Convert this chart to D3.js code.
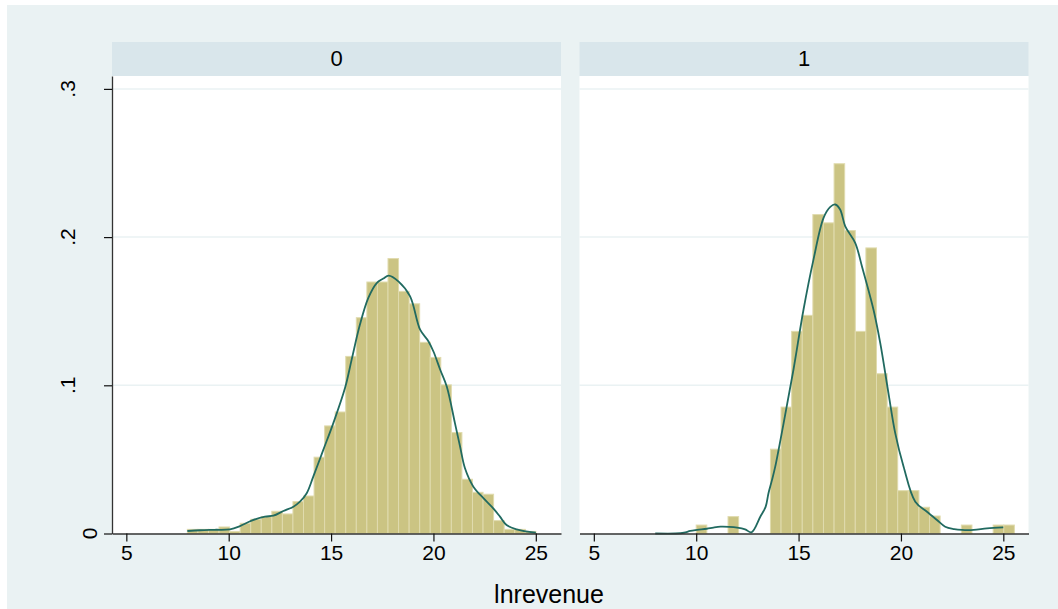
<!DOCTYPE html>
<html>
<head>
<meta charset="utf-8">
<script src="https://cdn.jsdelivr.net/npm/d3@7"></script>
<style>
  body { margin: 0; background: #ffffff; }
  svg { display: block; font-family: "Liberation Sans", Arial, sans-serif; }
</style>
</head>
<body>
<svg id="chart" width="1058" height="609"></svg>
<script>
// ---- data ----
const panels = ["0", "1"];
const xTicks = [5, 10, 15, 20, 25];
const yTicks = [0, 0.1, 0.2, 0.3];
const yTickLabels = ["0", ".1", ".2", ".3"];
const xTitle = "lnrevenue";

const binStart0 = 7.98, binWidth0 = 0.5158;
const density0 = [0.0028,0.0028,0.0028,0.0044,0.0014,0.0069,0.0096,0.0114,0.015,0.0132,0.0215,0.0253,
  0.0515,0.0726,0.082,0.1195,0.1456,0.1697,0.1697,0.1855,0.1634,0.155,0.129,0.1188,0.1003,0.0681,
  0.0366,0.0278,0.0265,0.0087,0.0028,0.0028,0.0014];

const binStart1 = 10.0, binWidth1 = 0.518;
const density1 = [0.0057,0,0,0.0114,0,0,0,0.0569,0.0853,0.1364,0.1472,0.2152,0.2096,0.2495,0.2044,
  0.1364,0.1927,0.1078,0.0853,0.0289,0.0289,0.0177,0.0118,0,0,0.0057,0,0,0.0057,0.0057];

const kdeX0 = [7.98,8.6,9.3,10.06,10.55,11.12,11.77,12.18,12.67,13.16,13.48,13.81,14.13,14.62,15.11,15.68,
  16.0,16.41,16.82,17.23,17.55,17.81,18.3,18.86,19.35,19.76,20.0,20.33,20.65,21.05,21.3,21.54,21.95,
  22.44,22.92,23.25,23.57,24.06,25.0];
const kdeY0 = [0.0017,0.0022,0.0025,0.0028,0.005,0.0087,0.0114,0.012,0.0152,0.0181,0.0215,0.0272,0.0384,
  0.0564,0.0745,0.0981,0.117,0.141,0.159,0.169,0.172,0.174,0.170,0.160,0.1375,0.1296,0.1228,0.1105,
  0.0992,0.0745,0.0587,0.044,0.0316,0.0238,0.017,0.0114,0.0057,0.0028,0.0005];

const kdeX1 = [8.0,9.0,9.4,9.71,10.05,10.52,10.84,11.19,11.6,12.0,12.39,12.7,13.13,13.39,13.53,13.7,13.86,
  14.27,14.75,15.24,15.73,16.22,16.55,16.79,17.03,17.28,17.77,18.1,18.66,18.99,19.39,19.72,20.13,20.7,
  21.27,21.76,22.16,22.6,22.98,23.55,24.2,25.0];
const kdeY1 = [0,0,0.0005,0.0017,0.0024,0.0032,0.004,0.0046,0.0045,0.004,0.0028,0.0008,0.0113,0.018,0.0272,
  0.036,0.0451,0.0745,0.1105,0.151,0.185,0.213,0.2204,0.222,0.2186,0.2073,0.196,0.180,0.151,0.1285,
  0.0947,0.0677,0.0451,0.0215,0.0147,0.0091,0.0046,0.003,0.0024,0.0024,0.0035,0.0042];

const panelData = [
  {label: panels[0], start: binStart0, width: binWidth0, dens: density0, kx: kdeX0, ky: kdeY0},
  {label: panels[1], start: binStart1, width: binWidth1, dens: density1, kx: kdeX1, ky: kdeY1}
];

// ---- layout ----
const svg = d3.select("#chart");
const W = 1058, H = 609;
const panelX = [112, 579.5];
const panelW = 449;
const stripTop = 42, stripH = 34;
const plotTop = 76, plotBottom = 533.5;

const bgColor = "#EAF2F3", stripColor = "#D9E6EB";
const barFill = "#CBC483", barStroke = "#E0DBAE";
const lineColor = "#216A60";

svg.append("rect").attr("x", 7).attr("y", 5).attr("width", W - 7).attr("height", H - 5).attr("fill", bgColor);

const y = d3.scaleLinear().domain([0, 0.3087]).range([plotBottom, plotTop]);

panelData.forEach((p, i) => {
  const x0 = panelX[i];
  const x = d3.scaleLinear().domain([4.3, 26.23]).range([x0, x0 + panelW]);
  const g = svg.append("g");

  g.append("rect").attr("x", x0).attr("y", stripTop).attr("width", panelW).attr("height", stripH).attr("fill", stripColor);
  g.append("text").attr("x", x0 + panelW / 2).attr("y", 66).attr("text-anchor", "middle")
    .attr("font-size", 22).attr("fill", "#000").text(p.label);

  g.append("rect").attr("x", x0).attr("y", plotTop).attr("width", panelW).attr("height", plotBottom - plotTop).attr("fill", "#fff");

  // grid
  g.selectAll(".grid").data(yTicks.slice(1)).enter().append("line")
    .attr("x1", x0).attr("x2", x0 + panelW)
    .attr("y1", d => y(d)).attr("y2", d => y(d))
    .attr("stroke", bgColor).attr("stroke-width", 1.5);

  // bars
  g.selectAll(".bar").data(p.dens).enter().append("rect")
    .attr("x", (d, k) => x(p.start + k * p.width))
    .attr("width", (d, k) => x(p.start + (k + 1) * p.width) - x(p.start + k * p.width))
    .attr("y", d => y(d))
    .attr("height", d => plotBottom - y(d))
    .attr("fill", d => d > 0 ? barFill : "none")
    .attr("stroke", d => d > 0 ? barStroke : "none")
    .attr("stroke-width", 1);

  // kde
  const pts = p.kx.map((v, k) => [v, p.ky[k]]);
  g.append("path").datum(pts)
    .attr("d", d3.line().x(d => x(d[0])).y(d => y(d[1])).curve(d3.curveCatmullRom.alpha(0.5)))
    .attr("fill", "none").attr("stroke", lineColor).attr("stroke-width", 1.8);

  // x axis
  const ax = g.append("g").attr("transform", `translate(0,${plotBottom})`)
    .call(d3.axisBottom(x).tickValues(xTicks).tickSize(8).tickSizeOuter(0).tickPadding(4));
  ax.select(".domain").attr("stroke", "#333").attr("stroke-width", 1.3);
  ax.selectAll(".tick line").attr("stroke", "#111").attr("stroke-width", 1.2);
  ax.selectAll(".tick text").attr("font-size", 21).attr("fill", "#000")
    .attr("font-family", "Liberation Sans, Arial, sans-serif");

  if (i === 0) {
    const ay = g.append("g").attr("transform", `translate(${x0},0)`)
      .call(d3.axisLeft(y).tickValues(yTicks).tickSize(8).tickSizeOuter(0).tickFormat((d, k) => yTickLabels[k]));
    ay.select(".domain").attr("stroke", "#333").attr("stroke-width", 1.3);
    ay.selectAll(".tick line").attr("stroke", "#111").attr("stroke-width", 1.2);
    ay.selectAll(".tick text").remove();
    g.selectAll(".ylab").data(yTicks).enter().append("text")
      .attr("transform", (d, k) => `translate(${k === 0 ? 97 : 75},${y(d)}) rotate(-90)`)
      .attr("text-anchor", "middle").attr("font-size", 21).attr("fill", "#000")
      .text((d, k) => yTickLabels[k]);
  }
});

svg.append("text").attr("x", 549).attr("y", 603).attr("text-anchor", "middle")
  .attr("font-size", 25).attr("fill", "#000").text(xTitle);
</script>
</body>
</html>
